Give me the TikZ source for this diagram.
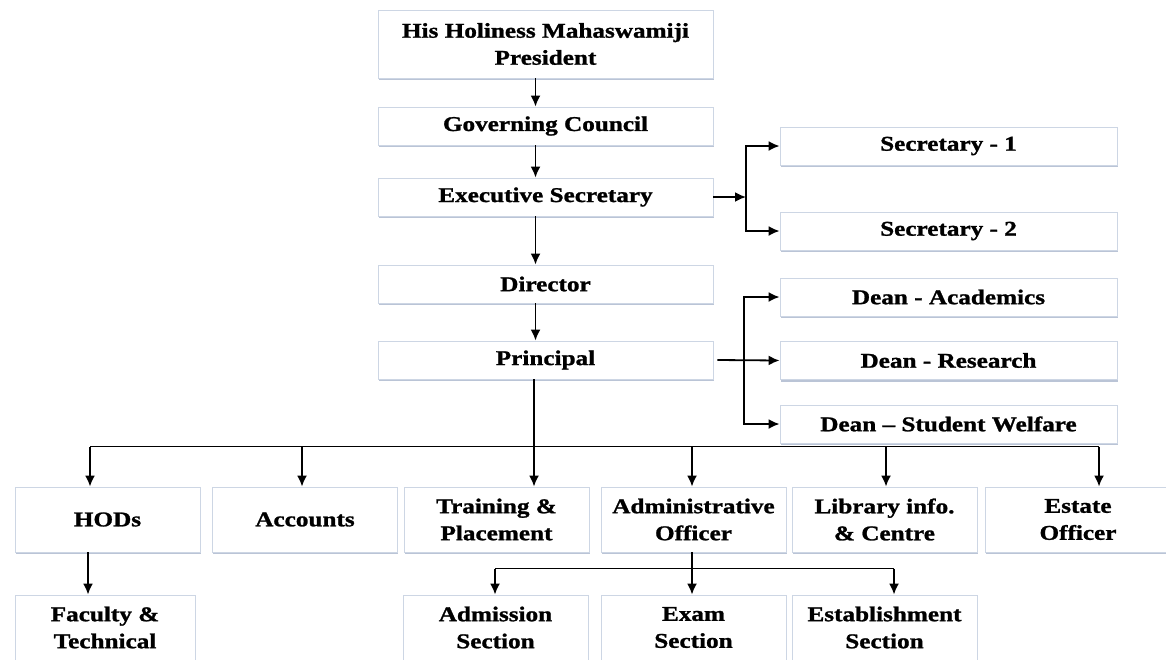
\documentclass[tikz,border=0pt]{standalone}
\usepackage{fontspec}
\setmainfont{Liberation Serif}[FakeStretch=1.2, BoldFeatures={FakeBold=1.2}]
\usetikzlibrary{arrows.meta,shapes,positioning,shadows,calc}
\definecolor{boxline}{RGB}{205,214,228}
\definecolor{boxshade}{RGB}{140,158,188}

\begin{document}
\begin{tikzpicture}[x=1pt, y=-1pt,
  box/.style={rectangle, draw=boxline, fill=white, line width=0.9pt, align=center, inner sep=0pt,
    font=\fontsize{21}{27}\selectfont\bfseries,
    drop shadow={shadow xshift=0.6pt, shadow yshift=-2.2pt, fill=boxshade, opacity=0.6}},
  topbox/.style={box, minimum width=335pt, minimum height=38pt},
  sidebox/.style={box, minimum width=337pt, minimum height=38pt},
  lowbox/.style={box, minimum width=185pt, minimum height=65pt},
  flow/.style={-{Latex[length=11pt,width=10pt]}, line width=1.8pt},
  link/.style={line width=1.8pt}]

\useasboundingbox (0,0) rectangle (1166,659);
\fill[white] (0,0) rectangle (1166,659);

% Top column
\node[topbox, minimum height=68pt] (pres) at (545.5,44) {His Holiness Mahaswamiji\\President};
\node[topbox] (gov) at (545.5,126) {Governing Council};
\node[topbox] (exec) at (545.5,197) {Executive Secretary};
\node[topbox] (dir) at (545.5,284) {Director};
\node[topbox] (prin) at (545.5,360) {Principal};

% Right column
\node[sidebox] (sec1) at (948.5,146) {Secretary - 1};
\node[sidebox] (sec2) at (948.5,231) {Secretary - 2};
\node[sidebox] (deanA) at (948.5,297) {Dean - Academics};
\node[sidebox] (deanR) at (948.5,360.5) {Dean - Research};
\node[sidebox] (deanSW) at (948.5,424) {Dean – Student Welfare};

% Departments
\node[lowbox] (hods) at (107.5,519.5) {HODs};
\node[lowbox] (acc) at (305,519.5) {Accounts};
\node[lowbox] (train) at (496.5,519.5) {Training \&\\Placement};
\node[lowbox] (admin) at (693.5,519.5) {Administrative\\Officer};
\node[lowbox] (lib) at (884.5,519.5) {Library info.\\\& Centre};
\node[lowbox] (estate) at (1078,519.5) {Estate\\Officer};

% Sections
\node[lowbox, minimum width=180pt] (fac) at (105,627.5) {Faculty \&\\Technical};
\node[lowbox] (adm) at (495.5,627.5) {Admission\\Section};
\node[lowbox] (exam) at (693.5,627.5) {Exam\\Section};
\node[lowbox] (estab) at (884.5,627.5) {Establishment\\Section};

% Flows
\draw[flow] ([xshift=-10pt]pres.south) -- ([xshift=-10pt]gov.north);
\draw[flow] ([xshift=-10pt]gov.south) -- ([xshift=-10pt]exec.north);
\draw[flow] ([xshift=-10pt]exec.south) -- ([xshift=-10pt]dir.north);
\draw[flow] ([xshift=-10pt]dir.south) -- ([xshift=-10pt]prin.north);

% Secretaries
\coordinate (secfork) at (746,197);
\draw[flow] (exec.east) -- (secfork);
\draw[flow] (secfork) |- (sec1.west);
\draw[flow] (secfork) |- (sec2.west);

% Deans
\coordinate (deanfork) at (744,360.5);
\draw[flow] ([xshift=4pt]prin.east) -- (deanR.west);
\draw[flow] (deanfork) |- (deanA.west);
\draw[flow] (deanfork) |- (deanSW.west);

% Principal to departments
\draw[flow] ([xshift=-11.5pt]prin.south) -- ([xshift=37.5pt]train.north);
\draw[link] ([xshift=-17.5pt,yshift=40pt]hods.north) -- ([xshift=21pt,yshift=40pt]estate.north);
\draw[flow] ([xshift=-17.5pt,yshift=40pt]hods.north) -- ([xshift=-17.5pt]hods.north);
\draw[flow] ([xshift=-3pt,yshift=40pt]acc.north) -- ([xshift=-3pt]acc.north);
\draw[flow] ([xshift=-1.5pt,yshift=40pt]admin.north) -- ([xshift=-1.5pt]admin.north);
\draw[flow] ([xshift=1.5pt,yshift=40pt]lib.north) -- ([xshift=1.5pt]lib.north);
\draw[flow] ([xshift=21pt,yshift=40pt]estate.north) -- ([xshift=21pt]estate.north);

% Departments to sections
\draw[flow] ([xshift=-19.5pt]hods.south) -- ([xshift=-17pt]fac.north);
\draw[flow] ([xshift=-1.5pt]admin.south) -- ([xshift=-1.5pt]exam.north);
\draw[link] ([xshift=-0.5pt,yshift=26pt]adm.north) -- ([xshift=9.5pt,yshift=26pt]estab.north);
\draw[flow] ([xshift=-0.5pt,yshift=26pt]adm.north) -- ([xshift=-0.5pt]adm.north);
\draw[flow] ([xshift=9.5pt,yshift=26pt]estab.north) -- ([xshift=9.5pt]estab.north);

\end{tikzpicture}
\end{document}
